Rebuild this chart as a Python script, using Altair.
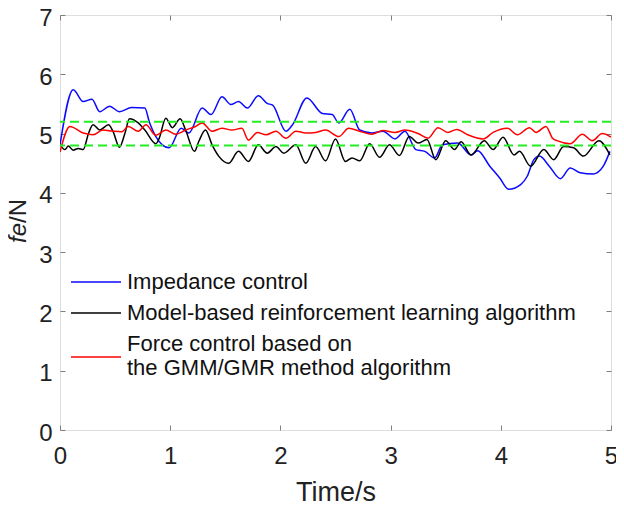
import altair as alt
import pandas as pd

# ---- data ----
blue_t = [0, 0.12, 0.21, 0.29, 0.36, 0.45, 0.54, 0.65, 0.77, 0.81, 0.87, 0.99, 1.10, 1.17, 1.29,
          1.37, 1.47, 1.55, 1.62, 1.70, 1.80, 1.88, 1.93, 2.05, 2.11, 2.24, 2.38, 2.47, 2.53, 2.63,
          2.72, 2.83, 2.93, 3.04, 3.13, 3.23, 3.31, 3.40, 3.47, 3.61,
          3.73, 3.79, 3.90, 3.99, 4.07, 4.18, 4.24, 4.30, 4.35, 4.44, 4.54, 4.63, 4.72, 4.84, 4.93, 4.99]
blue_v = [4.81, 5.74, 5.54, 5.58, 5.37, 5.46, 5.37, 5.44, 5.43, 5.20, 4.95, 4.76, 5.09, 5.01, 5.43,
          5.32, 5.62, 5.49, 5.54, 5.43, 5.64, 5.51, 5.48, 5.04, 5.15, 5.60, 5.34, 5.32, 5.18, 5.41,
          5.06, 5.01, 5.04, 4.91, 5.04, 4.73, 4.70, 4.59, 4.81, 4.84,
          4.64, 4.71, 4.45, 4.25, 4.06, 4.14, 4.28, 4.56, 4.62, 4.45, 4.24, 4.42, 4.34, 4.32, 4.45, 4.70]

black_t = [0, 0.045, 0.075, 0.12, 0.165, 0.21, 0.26, 0.30, 0.36, 0.44, 0.48, 0.54, 0.59, 0.63, 0.71,
           0.77, 0.87, 0.90, 0.96, 1.02, 1.09, 1.14, 1.22, 1.26, 1.32, 1.38, 1.44, 1.53, 1.62, 1.71,
           1.80, 1.88, 1.96, 2.03, 2.14, 2.23, 2.32, 2.41, 2.50, 2.59, 2.65, 2.72, 2.81, 2.90, 2.99,
           3.08, 3.17, 3.25, 3.33, 3.41, 3.50, 3.58, 3.64, 3.73, 3.85, 3.93, 4.02, 4.12, 4.17, 4.27,
           4.39, 4.48, 4.57, 4.66, 4.75, 4.89, 4.99]
black_v = [4.81, 4.73, 4.79, 4.72, 4.75, 4.73, 5.01, 5.15, 5.06, 5.15, 5.04, 4.77, 5.01, 5.25, 5.18,
           5.06, 4.83, 4.92, 5.26, 5.10, 5.25, 5.06, 4.70, 4.87, 5.06, 4.81, 4.62, 4.50, 4.70, 4.53,
           4.81, 4.67, 4.78, 4.67, 4.81, 4.50, 4.78, 4.54, 4.91, 4.53, 4.59, 4.54, 4.83, 4.60, 4.81,
           4.63, 4.95, 4.84, 4.90, 4.56, 4.88, 4.73, 4.86, 4.64, 4.88, 4.73, 4.94, 4.64, 4.70, 4.45,
           4.73, 4.56, 4.78, 4.76, 4.62, 4.88, 4.64]

red_t = [0, 0.09, 0.21, 0.30, 0.39, 0.48, 0.56, 0.62, 0.71, 0.78, 0.87, 0.96, 1.05, 1.14, 1.23,
         1.29, 1.38, 1.47, 1.56, 1.65, 1.71, 1.79, 1.87, 1.96, 2.05, 2.14, 2.23, 2.32, 2.41, 2.53,
         2.62, 2.72, 2.83, 2.93, 3.04, 3.13, 3.25, 3.34, 3.43, 3.52, 3.60, 3.70, 3.84, 3.93, 4.06,
         4.15, 4.26, 4.32, 4.41, 4.47, 4.51, 4.63, 4.74, 4.83, 4.92, 5.0]
red_v = [4.69, 5.12, 5.01, 4.98, 5.06, 5.04, 5.03, 5.12, 5.04, 5.15, 4.97, 5.06, 4.99, 5.06, 5.12,
         5.18, 5.04, 5.09, 5.06, 5.09, 4.89, 5.02, 4.98, 5.04, 4.92, 5.04, 5.01, 5.02, 5.06, 4.95,
         5.09, 5.04, 4.99, 5.05, 5.02, 5.06, 5.00, 4.92, 5.10, 5.02, 5.07, 4.98, 4.91, 5.02, 5.09,
         4.98, 5.10, 5.02, 5.12, 4.92, 4.88, 4.83, 4.99, 4.88, 5.00, 4.94]

series_names = ["Impedance control",
                "Model-based reinforcement learning algorithm",
                "Force control based on the GMM/GMR method algorithm"]
series_colors = ["#0a0aff", "#000000", "#ff0000"]
bounds = [5.2, 4.8]
x_ticks = [0, 1, 2, 3, 4, 5]
y_ticks = [0, 1, 2, 3, 4, 5, 6, 7]

rows = []
for name, ts, vs in zip(series_names, [blue_t, black_t, red_t], [blue_v, black_v, red_v]):
    for i, (t, v) in enumerate(zip(ts, vs)):
        rows.append({"series": name, "t": t, "v": v, "order": i})
df = pd.DataFrame(rows)

FONT = "Liberation Sans"
GRAY = "#7f7f7f"

xscale = alt.Scale(domain=[0, 5], nice=False, zero=False)
yscale = alt.Scale(domain=[0, 7], nice=False, zero=False)

long_name = series_names[2]
legend_expr = ("datum.label == '" + long_name + "' ? "
               "['Force control based on', 'the GMM/GMR method algorithm'] : datum.label")
baseline_expr = "datum.label == '" + long_name + "' ? 'line-bottom' : 'middle'"

lines = alt.Chart(df).mark_line(strokeWidth=1.5, clip=True, interpolate="monotone").encode(
    x=alt.X("t:Q", scale=xscale,
            axis=alt.Axis(orient="bottom", values=x_ticks, offset=-5, tickSize=5, domain=False,
                          labelPadding=14, labelFontSize=24, labelFont=FONT, labelColor="#222",
                          labelFlush=False, tickColor=GRAY, grid=False, title="Time/s",
                          titleFont=FONT, titleFontSize=27, titleFontWeight="normal",
                          titleColor="#222", titleBaseline="alphabetic", titleY=75)),
    y=alt.Y("v:Q", scale=yscale,
            axis=alt.Axis(orient="left", values=y_ticks, offset=-5, tickSize=5, domain=False,
                          labelPadding=8, labelFontSize=24, labelFont=FONT, labelColor="#222",
                          labelOffset=3, tickColor=GRAY, grid=False, title=None)),
    color=alt.Color("series:N",
                    scale=alt.Scale(domain=series_names, range=series_colors),
                    legend=alt.Legend(orient="none", legendX=25, legendY=256, title=None,
                                      symbolType="M-5,0L5,0", symbolSize=100,
                                      symbolStrokeWidth=1.3, labelOffset=20,
                                      labelFontSize=22, labelFont=FONT, labelColor="#111",
                                      labelLimit=700, rowPadding=9, padding=0,
                                      labelBaseline=alt.ExprRef(baseline_expr),
                                      labelExpr=legend_expr)),
    order="order:Q",
)

green = alt.Chart(pd.DataFrame({"b": bounds})).mark_rule(
    color="#22ee22", strokeWidth=2, strokeDash=[9, 5]
).encode(y=alt.Y("b:Q", scale=yscale, axis=None))

frame_ticks = alt.Chart(df).mark_point(opacity=0).encode(
    x=alt.X("t:Q", scale=xscale,
            axis=alt.Axis(orient="top", values=x_ticks, offset=-5, tickSize=5, domain=False,
                          labels=False, tickColor=GRAY, grid=False, title=None)),
    y=alt.Y("v:Q", scale=yscale,
            axis=alt.Axis(orient="right", values=y_ticks, offset=-5, tickSize=5, domain=False,
                          labels=False, tickColor=GRAY, grid=False, title=None)),
)

ytitle_fe = alt.Chart(pd.DataFrame({"s": ["fe"]})).mark_text(
    angle=270, align="right", baseline="middle", fontSize=24, font=FONT,
    fontStyle="italic", color="#222"
).encode(text="s:N", x=alt.value(-41), y=alt.value(208))

ytitle_n = alt.Chart(pd.DataFrame({"s": ["/N"]})).mark_text(
    angle=270, align="left", baseline="middle", fontSize=24, font=FONT, color="#222"
).encode(text="s:N", x=alt.value(-41), y=alt.value(208))

chart = alt.layer(lines, green, frame_ticks, ytitle_fe, ytitle_n).resolve_axis(
    x="independent", y="independent"
).properties(
    width=551, height=415,
    autosize=alt.AutoSizeParams(type="none"),
    padding={"left": 52, "top": 7, "right": 5, "bottom": 76},
).configure_view(stroke=GRAY, strokeWidth=1).configure(background="white")

chart.save("out.html", embed_options={"renderer": "svg", "actions": False})
